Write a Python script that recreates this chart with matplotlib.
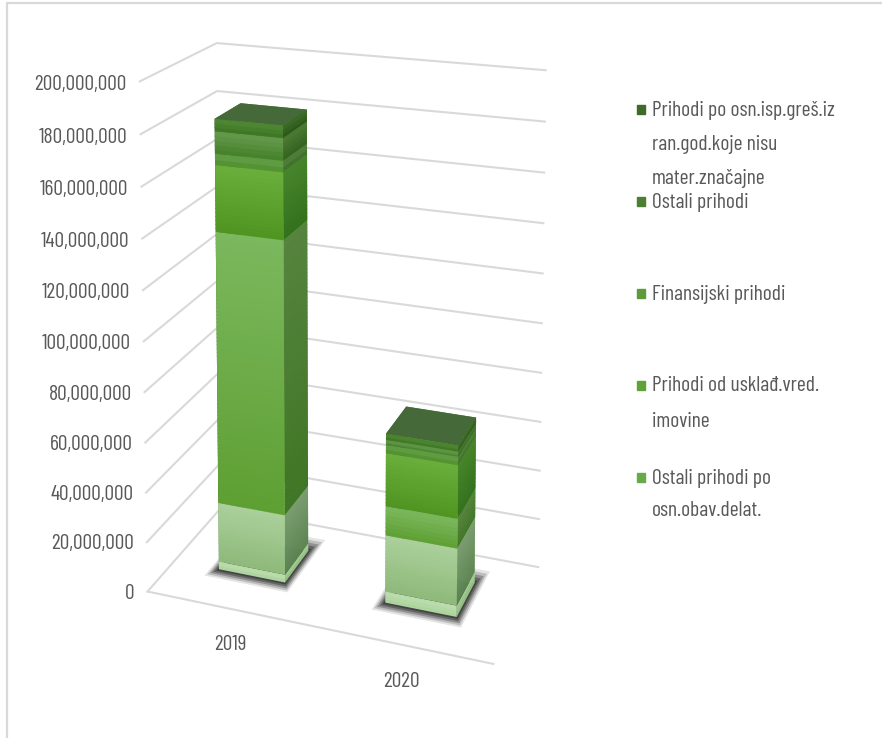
import matplotlib
matplotlib.use("Agg")
import matplotlib.pyplot as plt
from matplotlib.lines import Line2D
from matplotlib.colors import to_rgb
import numpy as np

FONT = "Barlow Condensed"

years = ["2019", "2020"]
seg_a = [3.2, 4.5]
seg_b = [24.3, 22.5]
seg_c = [109.6, 11.6]
seg_d = [26.4, 21.0]
seg_e = [4.4, 3.2]
seg_f = [8.8, 2.0]
seg_g = [4.8, 2.4]
series = [seg_a, seg_b, seg_c, seg_d, seg_e, seg_f, seg_g]
ticks = list(range(0, 201, 20))
legend_labels = ["Prihodi po osn.isp.greš.iz\nran.god.koje nisu\nmater.značajne", "Ostali prihodi",
                 "Finansijski prihodi", "Prihodi od usklađ.vred.\nimovine", "Ostali prihodi po\nosn.obav.delat."]

# (colour at the bottom of a segment, colour at its top)
front = [("#A9D39A", "#BDDDAE"), ("#8DB97A", "#ABD09B"), ("#5E9F32", "#7BB85E"), ("#4F9320", "#6AAE3C"),
         ("#4F8E2C", "#649F47"), ("#447F28", "#659A4E"), ("#3C7324", "#4F8A33")]
side = [("#8DBD7C", "#A5CE96"), ("#5B8350", "#7A9C70"), ("#3F7524", "#56843F"), ("#33701C", "#47852B"),
        ("#3B6E26", "#52803C"), ("#33621F", "#4A7A34"), ("#2C551A", "#3C6D27")]
top = "#46693A"
legend_colors = ["#3F6B2A", "#4A8030", "#5C9A3C", "#5FA238", "#69AA48"]
GRID = "#D9D9D9"
TXT = "#595959"
FS = 15.5
CLEAR = (0, 0, 0, 0)


def mix(pair, t):
    a, b = to_rgb(pair[0]), to_rgb(pair[1])
    return tuple(a[n] + (b[n] - a[n]) * t for n in range(3))


fig = plt.figure(figsize=(8.82, 7.38), dpi=100)
fig.add_artist(Line2D([7/882, 7/882, 1], [0, 1-3/738, 1-3/738], color=GRID, lw=1.6))

ax = fig.add_axes([0.1145, -0.0535, 0.54, 1.175], projection="3d")
ax.apply_aspect = lambda position=None: None   # keep the stretched box
ax.set_proj_type("persp", focal_length=0.63)
ax.view_init(elev=12.5, azim=-70)
ax.set_box_aspect((1.0, 0.50, 0.79), zoom=1.0)
ax.set_axis_off()
ax.computed_zorder = False
ax.set_xlim(0, 2); ax.set_ylim(0, 1); ax.set_zlim(0, 200)

for v in ticks:
    ax.plot([0, 0, 2], [0, 1, 1], [v, v, v], color=GRID, lw=1.5, zorder=1)
    ax.text(-0.08, 0, v - 1.7, f"{v*1000000:,}", ha="right", va="center", color=TXT,
            fontsize=FS, family=FONT, zorder=5)
ax.plot([0, 2], [0, 0], [0, 0], color=GRID, lw=1.5, zorder=1)

w, d = 0.41, 0.36
bar_x = (0.485, 1.495)
label_x = (0.645, 1.60)
for i, yr in enumerate(years):
    x0 = bar_x[i] - w/2
    y0 = 0.53 - d/2
    for k, a in zip((0.05, 0.04, 0.03, 0.02, 0.01), (0.12, 0.2, 0.3, 0.4, 0.5)):
        ax.bar3d(x0-k, y0-1.8*k, 0, w+2*k, d+4.8*k, 0.01, color=[(0.15, 0.15, 0.15, a), CLEAR, CLEAR, CLEAR, CLEAR, CLEAR],
                 shade=False, zorder=2)
    base = 0
    order = 3
    for j, s in enumerate(series):
        n = max(2, int(s[i] / 1.5))
        for m in range(n):
            lo = base + s[i] * m / n
            hi = base + s[i] * (m + 1) / n
            t = (m + 0.5) / n
            fc, sc = mix(front[j], t), mix(side[j], t)
            last = j == len(series) - 1 and m == n - 1
            ov = 0.3 if m else 0
            ax.bar3d(x0, y0, lo - ov, w, d, hi - lo + ov,
                     color=[CLEAR, top if last else CLEAR, fc, fc, sc, sc], shade=False, zorder=order)
            order += 0.01
        base += s[i]
    ax.text(label_x[i], -0.31, 0, yr, ha="center", va="center", color=TXT, fontsize=FS, family=FONT, zorder=5)

ys = [(110, 145, 178), (202,), (294,), (386, 421), (478, 511)]
for lab, col, yy in zip(legend_labels, legend_colors, ys):
    fig.patches.append(plt.Rectangle((637/882, 1-(yy[0]+4)/738), 8/882, 9/738, transform=fig.transFigure, color=col))
    for line, y in zip(lab.split("\n"), yy):
        fig.text(652/882, 1-y/738, line, ha="left", va="center", color=TXT, fontsize=FS, family=FONT)

fig.savefig("out.png", dpi=100)
